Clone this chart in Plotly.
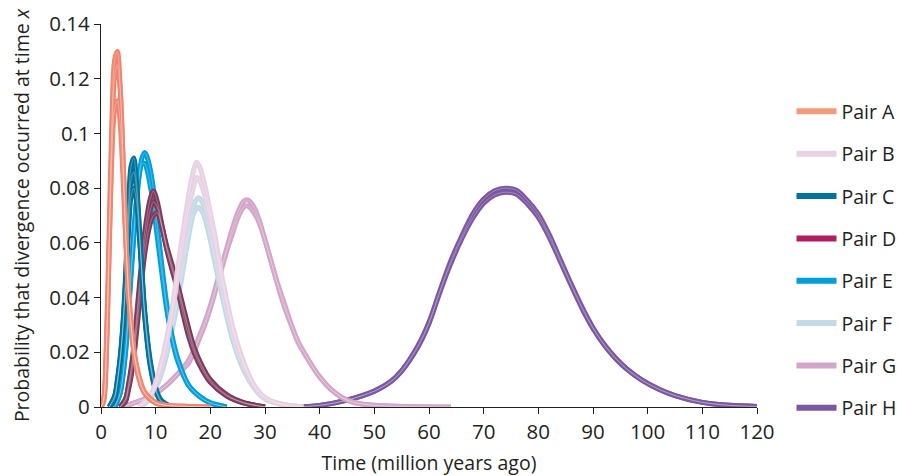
import plotly.graph_objects as go

# Time grids (million years ago) and probability curves, two or three runs per pair
A_T = [0, 0.5, 1, 1.5, 2, 2.5, 3, 3.5, 4, 4.5, 5, 6, 7, 8, 10, 12, 16, 20]
A_RUNS = [
    [0, 0.003, 0.025, 0.065, 0.105, 0.127, 0.130, 0.118, 0.092, 0.064, 0.042, 0.020, 0.010, 0.005, 0.0015, 0.0006, 0.0002, 0],
    [0, 0.002, 0.020, 0.058, 0.098, 0.121, 0.125, 0.116, 0.093, 0.066, 0.044, 0.021, 0.010, 0.005, 0.0015, 0.0006, 0.0002, 0],
    [0, 0.003, 0.022, 0.058, 0.092, 0.109, 0.112, 0.104, 0.085, 0.062, 0.043, 0.021, 0.011, 0.0055, 0.0017, 0.0006, 0.0002, 0],
]

B_T = [7, 9, 10, 11, 12, 13, 14, 15, 16, 17, 17.5, 18, 19, 20, 21, 22, 23, 24, 25, 26, 28, 30, 33, 37]
B_RUNS = [
    [0, 0.004, 0.009, 0.016, 0.025, 0.036, 0.050, 0.064, 0.077, 0.087, 0.0895, 0.088, 0.081, 0.071, 0.061, 0.049, 0.039, 0.030, 0.023, 0.017, 0.008, 0.0035, 0.001, 0],
    [0, 0.004, 0.008, 0.015, 0.023, 0.034, 0.047, 0.060, 0.072, 0.081, 0.084, 0.083, 0.077, 0.068, 0.058, 0.047, 0.038, 0.029, 0.022, 0.016, 0.0078, 0.0034, 0.001, 0],
]

C_T = [1.5, 2.5, 3, 3.5, 4, 4.5, 5, 5.5, 6, 6.5, 7, 7.5, 8, 9, 10, 11, 13]
C_RUNS = [
    [0, 0.004, 0.010, 0.018, 0.030, 0.048, 0.072, 0.088, 0.091, 0.082, 0.066, 0.048, 0.033, 0.015, 0.006, 0.002, 0],
    [0, 0.003, 0.009, 0.017, 0.029, 0.046, 0.068, 0.083, 0.086, 0.079, 0.065, 0.048, 0.034, 0.016, 0.0065, 0.002, 0],
    [0, 0.004, 0.009, 0.017, 0.028, 0.044, 0.063, 0.077, 0.080, 0.075, 0.063, 0.049, 0.035, 0.017, 0.007, 0.0025, 0],
]

D_T = [3.5, 4.5, 5, 5.5, 6, 7, 8, 9, 9.6, 10.3, 11, 12, 13, 14, 15, 16, 17, 18.5, 20, 23, 26, 30]
D_RUNS = [
    [0, 0.003, 0.008, 0.014, 0.022, 0.044, 0.064, 0.076, 0.079, 0.075, 0.068, 0.058, 0.050, 0.043, 0.034, 0.026, 0.020, 0.0136, 0.009, 0.004, 0.0015, 0],
    [0, 0.003, 0.007, 0.013, 0.020, 0.041, 0.060, 0.072, 0.075, 0.073, 0.067, 0.058, 0.051, 0.044, 0.036, 0.028, 0.021, 0.0145, 0.0095, 0.0042, 0.0016, 0],
    [0, 0.002, 0.006, 0.011, 0.018, 0.037, 0.056, 0.067, 0.070, 0.071, 0.067, 0.059, 0.052, 0.045, 0.037, 0.029, 0.022, 0.015, 0.010, 0.0045, 0.0017, 0],
]

E_T = [2.5, 3.5, 4.5, 5.5, 6, 6.5, 7, 7.5, 8, 8.5, 9, 9.5, 10, 11, 12, 13, 14, 16, 18, 20, 23]
E_RUNS = [
    [0, 0.005, 0.020, 0.048, 0.062, 0.075, 0.085, 0.091, 0.093, 0.091, 0.087, 0.081, 0.072, 0.054, 0.038, 0.026, 0.018, 0.008, 0.004, 0.0015, 0],
    [0, 0.005, 0.021, 0.050, 0.064, 0.076, 0.085, 0.089, 0.089, 0.086, 0.081, 0.075, 0.067, 0.051, 0.036, 0.025, 0.017, 0.008, 0.0038, 0.0015, 0],
]

F_T = [7, 9, 10, 11, 12, 13, 14, 15, 16, 17, 17.8, 18.5, 19, 20, 21, 22, 23, 24, 25, 26, 28, 30, 33, 37]
F_RUNS = [
    [0, 0.003, 0.007, 0.012, 0.020, 0.029, 0.040, 0.053, 0.065, 0.074, 0.0765, 0.075, 0.072, 0.063, 0.053, 0.043, 0.034, 0.026, 0.019, 0.014, 0.007, 0.003, 0.001, 0],
    [0, 0.003, 0.007, 0.012, 0.019, 0.028, 0.038, 0.050, 0.062, 0.071, 0.073, 0.0715, 0.069, 0.061, 0.051, 0.042, 0.033, 0.025, 0.019, 0.014, 0.007, 0.003, 0.001, 0],
]

G_T = [4, 8, 10, 12, 14, 16, 17, 18, 19, 20, 21, 22, 23, 24, 25, 26, 26.5, 27, 28, 29, 30, 31, 32, 33, 34, 35, 36, 38, 40, 42, 44, 46, 50, 55, 64]
G_RUNS = [
    [0, 0.003, 0.005, 0.008, 0.012, 0.017, 0.021, 0.026, 0.031, 0.037, 0.044, 0.051, 0.058, 0.065, 0.071, 0.075, 0.0757, 0.0755, 0.073, 0.068, 0.061, 0.054, 0.047, 0.040, 0.034, 0.029, 0.024, 0.017, 0.011, 0.0065, 0.0035, 0.0018, 0.0006, 0.0002, 0],
    [0, 0.003, 0.005, 0.008, 0.012, 0.016, 0.020, 0.025, 0.030, 0.036, 0.043, 0.050, 0.057, 0.063, 0.069, 0.0728, 0.0735, 0.0733, 0.071, 0.067, 0.061, 0.054, 0.047, 0.041, 0.035, 0.029, 0.024, 0.017, 0.011, 0.0066, 0.0036, 0.0018, 0.0006, 0.0002, 0],
]

H_T = [35, 40, 45, 50, 53, 55, 58, 60, 62, 64, 66, 68, 70, 72, 74, 76, 78, 80, 82, 84, 86, 88, 90, 92, 94, 96, 99, 102, 105, 110, 115, 120]
H_RUNS = [
    [0, 0.0006, 0.0025, 0.0058, 0.0093, 0.0133, 0.0225, 0.031, 0.0425, 0.0535, 0.0625, 0.0705, 0.076, 0.079, 0.080, 0.0792, 0.0755, 0.0705, 0.063, 0.054, 0.045, 0.0365, 0.029, 0.023, 0.0182, 0.0143, 0.0098, 0.0066, 0.0042, 0.0017, 0.0006, 0.0002],
    [0, 0.0006, 0.0025, 0.0058, 0.0092, 0.0131, 0.022, 0.0305, 0.042, 0.0525, 0.0615, 0.069, 0.0745, 0.0775, 0.0785, 0.0778, 0.0742, 0.0693, 0.062, 0.0533, 0.0445, 0.036, 0.0287, 0.0228, 0.018, 0.0141, 0.0097, 0.0065, 0.0042, 0.0017, 0.0006, 0.0002],
]

PAIR_NAMES = ["Pair A", "Pair B", "Pair C", "Pair D", "Pair E", "Pair F", "Pair G", "Pair H"]
PAIR_TIMES = [A_T, B_T, C_T, D_T, E_T, F_T, G_T, H_T]
PAIR_RUNS = [A_RUNS, B_RUNS, C_RUNS, D_RUNS, E_RUNS, F_RUNS, G_RUNS, H_RUNS]
CURVE_COLORS = ["#EE8670", "#E9D1E4", "#00729B", "#7E3A5C", "#009FDA", "#C2DAE7", "#D3A5C8", "#7B58A0"]
LEGEND_COLORS = ["#F39B7B", "#E9D1E4", "#00729B", "#AD1F5F", "#009FDA", "#C2DAE7", "#D3A5C8", "#7B58A0"]

Y_TICKS = [0, 0.02, 0.04, 0.06, 0.08, 0.1, 0.12, 0.14]
Y_TICK_TEXT = ["0", "0.02", "0.04", "0.06", "0.08", "0.1", "0.12", "0.14"]
X_TICKS = list(range(0, 121, 10))

INK = "#231F20"
FONT = "Open Sans"
TEXT_SIZE = 19.5
TICK_SIZE = 20.5

fig = go.Figure()

# Later pairs sit underneath; Pair A is drawn last
for i in reversed(range(len(PAIR_NAMES))):
    for run in PAIR_RUNS[i]:
        fig.add_trace(go.Scatter(
            x=PAIR_TIMES[i], y=run, mode="lines",
            line=dict(color=CURVE_COLORS[i], width=5, shape="spline", smoothing=0.9),
            showlegend=False, hoverinfo="skip"))
    for run in PAIR_RUNS[i]:
        fig.add_trace(go.Scatter(
            x=PAIR_TIMES[i], y=run, mode="lines", opacity=0.45,
            line=dict(color="white", width=0.6, shape="spline", smoothing=0.9),
            showlegend=False, hoverinfo="skip"))

# Legend entries
for i, name in enumerate(PAIR_NAMES):
    fig.add_trace(go.Scatter(
        x=[None], y=[None], mode="lines", name=name, legendgroup=name,
        line=dict(color=LEGEND_COLORS[i], width=6)))

fig.update_layout(
    width=897, height=476,
    margin=dict(l=101, r=140, t=24, b=69, autoexpand=False),
    paper_bgcolor="white", plot_bgcolor="white",
    font=dict(family=FONT, size=TEXT_SIZE, color=INK),
    showlegend=True,
    legend=dict(x=1.0526, y=0.822, xanchor="left", yanchor="top",
                tracegroupgap=14, itemwidth=40,
                font=dict(family=FONT, size=TEXT_SIZE, color=INK),
                bgcolor="rgba(0,0,0,0)"),
    xaxis=dict(range=[0, 120], tickvals=X_TICKS, ticks="outside", ticklen=6,
               tickwidth=1.2, tickcolor=INK, showline=True, linecolor=INK, linewidth=1.2,
               showgrid=False, zeroline=False, automargin=False,
               tickfont=dict(family=FONT, size=TICK_SIZE, color=INK),
               title=dict(text="Time (million years ago)", standoff=12,
                          font=dict(family=FONT, size=TEXT_SIZE, color=INK))),
    yaxis=dict(range=[0, 0.14], tickvals=Y_TICKS, ticktext=Y_TICK_TEXT, ticks="outside",
               ticklen=6, tickwidth=1.2, tickcolor=INK, showline=True, linecolor=INK,
               linewidth=1.2, showgrid=False, zeroline=False, automargin=False,
               tickfont=dict(family=FONT, size=TICK_SIZE, color=INK),
               title=dict(text="Probability that divergence occurred at time <i>x</i>", standoff=14,
                          font=dict(family=FONT, size=TEXT_SIZE, color=INK))),
)

fig.write_html("out.html")
